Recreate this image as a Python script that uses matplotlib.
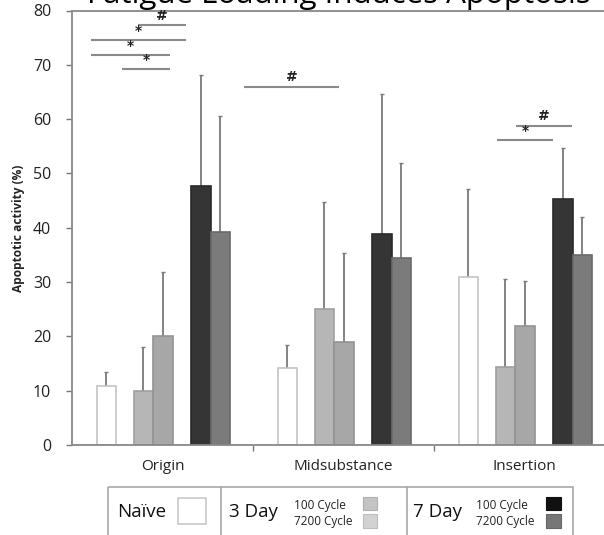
import numpy as np
import matplotlib
matplotlib.use("Agg")
import matplotlib.pyplot as plt
from matplotlib.patches import Rectangle

plt.rcParams['font.family'] = ['Open Sans', 'DejaVu Sans']

# regions and series (mean, upper SD)
regions = ['Origin', 'Midsubstance', 'Insertion']
naive = [10.9, 14.1, 30.9]
naive_sd = [2.5, 4.4, 16.2]
d3_100 = [9.9, 25.1, 14.4]
d3_100_sd = [8.1, 19.6, 16.1]
d3_7200 = [20.1, 19.0, 21.9]
d3_7200_sd = [11.8, 16.4, 8.3]
d7_100 = [47.6, 38.8, 45.3]
d7_100_sd = [20.6, 25.8, 9.4]
d7_7200 = [39.2, 34.5, 34.9]
d7_7200_sd = [21.3, 17.5, 7.1]

# significance bars: (x start, x end, height, mark)
sig_bars = [
    (0.365, 0.630, 77.3, '#'),
    (0.105, 0.630, 74.6, '*'),
    (0.105, 0.541, 71.8, '*'),
    (0.276, 0.541, 69.2, '*'),
    (0.950, 1.475, 66.0, '#'),
    (2.453, 2.762, 58.8, '#'),
    (2.348, 2.657, 56.1, '*'),
]

W, H = 604, 535
fig = plt.figure(figsize=(W / 100, H / 100), dpi=100)
ax = fig.add_axes([72 / W, 90 / H, 543 / W, 434.5 / H])

series = [
    (naive, naive_sd, 0.19, 'white', '#c4c4c4'),
    (d3_100, d3_100_sd, 0.395, '#b6b6b6', '#a0a0a0'),
    (d3_7200, d3_7200_sd, 0.503, '#a7a7a7', '#939393'),
    (d7_100, d7_100_sd, 0.713, '#353535', '#2a2a2a'),
    (d7_7200, d7_7200_sd, 0.82, '#7b7b7b', '#6a6a6a'),
]
x0 = np.arange(len(regions))
bw = 0.107
for vals, sd, off, fc, ec in series:
    xs = x0 + off
    ax.bar(xs, vals, width=bw, color=fc, edgecolor=ec, linewidth=1.2, zorder=2)
    ax.errorbar(xs, vals, yerr=[np.zeros(len(sd)), sd], fmt='none',
                ecolor='#7a7a7a', elinewidth=1.3, capsize=1.2, capthick=1, zorder=1)

for xa, xb, yv, mark in sig_bars:
    ax.plot([xa, xb], [yv, yv], color='#8a8a8a', lw=1.5, solid_capstyle='butt', zorder=3)
    ax.text((xa + xb) / 2, yv + 0.4, mark, ha='center', va='bottom',
            fontsize=10, color='#222222', fontweight='bold', family='DejaVu Sans')

ax.set_xlim(0, 3)
ax.set_ylim(0, 80)
ax.set_yticks(np.arange(0, 81, 10))
ax.set_xticks(x0 + 0.5)
ax.set_xticklabels(regions, fontsize=11, color='#222222')
ax.set_xticks([1, 2], minor=True)
ax.tick_params(axis='x', which='major', length=0, pad=10)
ax.tick_params(axis='x', which='minor', length=4, width=1, color='#777777', direction='out')
ax.tick_params(axis='y', length=4, width=1, color='#777777', pad=11, labelsize=11.5,
               labelcolor='#222222')
for s in ['left', 'bottom', 'top']:
    ax.spines[s].set_color('#888888')
    ax.spines[s].set_linewidth(1.3)
ax.spines['right'].set_visible(False)
ax.set_ylabel('Apoptotic activity (%)', fontsize=8.6, fontweight='bold', color='#222222')
ax.yaxis.set_label_coords(-0.087, 0.498)

# overlay in pixel coordinates for title and legend box
ov = fig.add_axes([0, 0, 1, 1], zorder=5)
ov.set_xlim(0, W)
ov.set_ylim(H, 0)
ov.axis('off')
ov.patch.set_alpha(0)

ov.text(339, 3.5, 'Fatigue Loading Induces Apoptosis', ha='center', va='baseline',
        fontsize=22.5, color='black')

ov.add_patch(Rectangle((108, 487), 465, 60, fill=False, edgecolor='#a8a8a8', lw=1.2))
ov.plot([221, 221], [487, 540], color='#a8a8a8', lw=1.2)
ov.plot([407, 407], [487, 540], color='#a8a8a8', lw=1.2)

ov.text(117, 512, 'Naïve', ha='left', va='center', fontsize=13.5, color='#111111')
ov.add_patch(Rectangle((178, 498), 28, 26, facecolor='white', edgecolor='#c8c8c8', lw=1.2))

ov.text(229, 512, '3 Day', ha='left', va='center', fontsize=13.5, color='#111111')
ov.text(294, 506, '100 Cycle', ha='left', va='center', fontsize=8.5, color='#222222')
ov.text(294, 522, '7200 Cycle', ha='left', va='center', fontsize=8.5, color='#222222')
ov.add_patch(Rectangle((363, 497), 14, 13, facecolor='#c4c4c4', edgecolor='#b0b0b0', lw=0.8))
ov.add_patch(Rectangle((363, 514), 14, 14, facecolor='#d2d2d2', edgecolor='#bdbdbd', lw=0.8))

ov.text(413, 512, '7 Day', ha='left', va='center', fontsize=13.5, color='#111111')
ov.text(476, 506, '100 Cycle', ha='left', va='center', fontsize=8.5, color='#222222')
ov.text(476, 522, '7200 Cycle', ha='left', va='center', fontsize=8.5, color='#222222')
ov.add_patch(Rectangle((546, 497), 15, 13, facecolor='#111111', edgecolor='#111111', lw=0.8))
ov.add_patch(Rectangle((546, 514), 15, 14, facecolor='#777777', edgecolor='#666666', lw=0.8))

fig.savefig('out.png', dpi=100)
